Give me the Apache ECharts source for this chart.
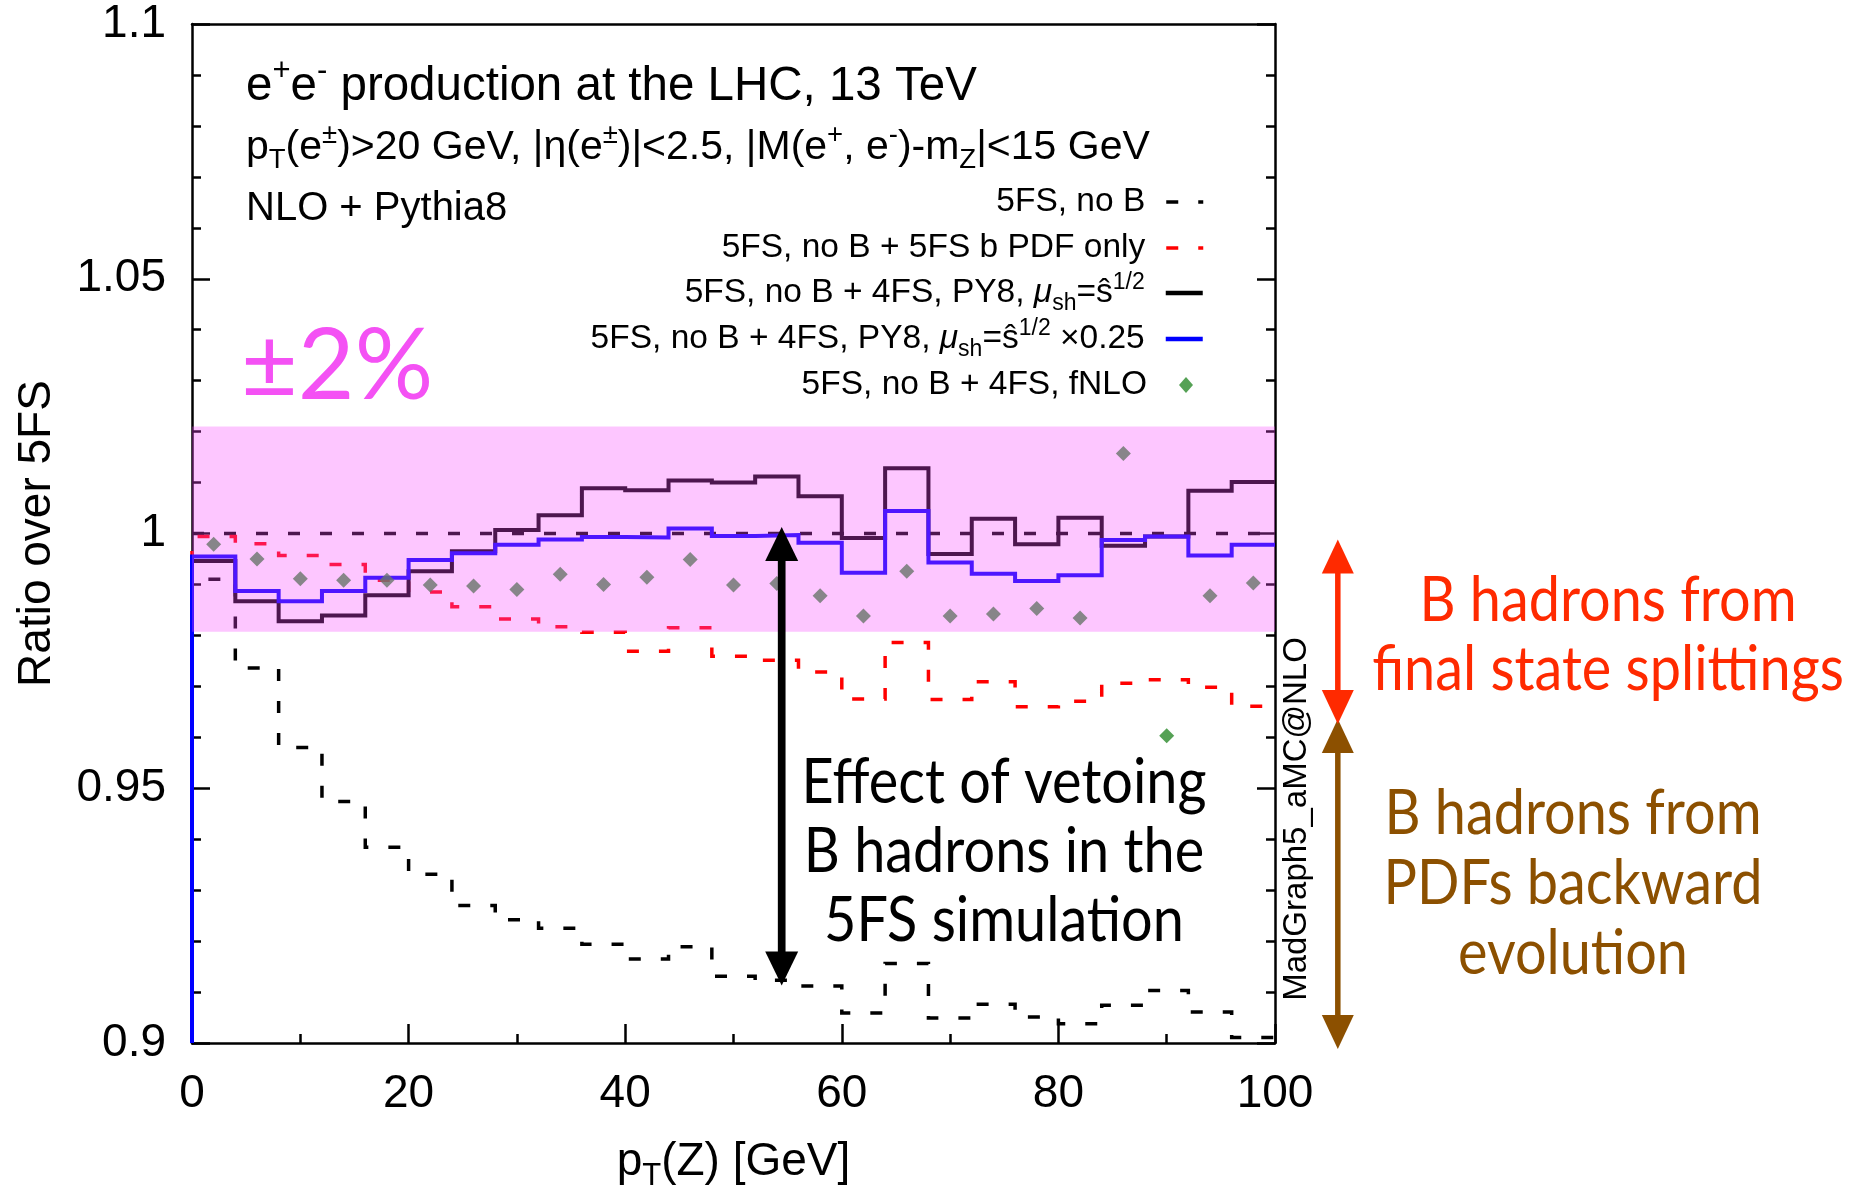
<!DOCTYPE html>
<html>
<head>
<meta charset="utf-8">
<title>Ratio over 5FS</title>
<script src="https://cdn.jsdelivr.net/npm/echarts@6/dist/echarts.min.js"></script>
<style>
html, body { margin: 0; padding: 0; background: #fff; }
#chart { width: 1863px; height: 1188px; }
</style>
</head>
<body>
<div id="chart"></div>
<script>
// p_T(Z) binning (GeV) and axis ticks
const BIN_EDGES = [0, 4, 8, 12, 16, 20, 24, 28, 32, 36, 40, 44, 48, 52, 56, 60, 64, 68, 72, 76, 80, 84, 88, 92, 96, 100];
const BIN_CENTERS = [2, 6, 10, 14, 18, 22, 26, 30, 34, 38, 42, 46, 50, 54, 58, 62, 66, 70, 74, 78, 82, 86, 90, 94, 98];
const X_TICKS = [0, 20, 40, 60, 80, 100];
const Y_TICKS = [0.9, 0.95, 1, 1.05, 1.1];

// ratios over the inclusive 5FS prediction, one value per 4 GeV bin
const NO_B = [0.9910, 0.9736, 0.9580, 0.9474, 0.9384, 0.9331, 0.9270, 0.9242, 0.9225, 0.9194, 0.9165, 0.9189, 0.9131,
  0.9123, 0.9112, 0.9059, 0.9156, 0.9049, 0.9076, 0.9051, 0.9038, 0.9074, 0.9103, 0.9061, 0.9011];
const NO_B_BPDF = [0.9994, 0.9980, 0.9957, 0.9939, 0.9908, 0.9885, 0.9856, 0.9832, 0.9817, 0.9806, 0.9769, 0.9815, 0.9759,
  0.9751, 0.9728, 0.9675, 0.9786, 0.9674, 0.9709, 0.9660, 0.9671, 0.9706, 0.9713, 0.9698, 0.9661];
const PY8_4FS = [0.9946, 0.9867, 0.9828, 0.9839, 0.9879, 0.9926, 0.9965, 1.0007, 1.0036, 1.0089, 1.0085, 1.0104, 1.0100,
  1.0112, 1.0073, 0.9991, 1.0128, 0.9960, 1.0029, 0.9979, 1.0031, 0.9976, 0.9994, 1.0084, 1.0101];
const PY8_4FS_SCALED = [0.9955, 0.9887, 0.9867, 0.9887, 0.9913, 0.9948, 0.9961, 0.9978, 0.9988, 0.9993, 0.9992, 1.0010, 0.9995,
  0.9997, 0.9982, 0.9923, 1.0044, 0.9943, 0.9921, 0.9907, 0.9918, 0.9987, 0.9994, 0.9957, 0.9978];
const FNLO_4FS = [0.9979, 0.9950, 0.9911, 0.9908, 0.9908, 0.9899, 0.9897, 0.9890, 0.9920, 0.9900, 0.9914, 0.9949, 0.9899,
  0.9902, 0.9878, 0.9838, 0.9926, 0.9838, 0.9842, 0.9853, 0.9834, 1.0157, 0.9603, 0.9878, 0.9903];

// reference ratio and the +-2% band
const REF_RATIO = 1;
const BAND = [0.9807, 1.021];

// annotation arrows (x in GeV, y in ratio units)
const VETO_ARROW = { x: 54.45, from: 1.0013, to: 0.9113 };
const FSR_ARROW = { x: 105.8, from: 0.9988, to: 0.9626 };
const PDF_ARROW = { x: 105.8, from: 0.9636, to: 0.8988 };

const FONT = 'Liberation Sans';
const BAND_COLOR = 'rgba(250,70,255,0.31)';
const GREEN = '#2a8a2a';
const DASH = [12, 20];

const S_NOB = '5FS, no B';
const S_BPDF = '5FS, no B + 5FS b PDF only';
const S_PY8 = '5FS, no B + 4FS, PY8';
const S_PY8Q = '5FS, no B + 4FS, PY8 x0.25';
const S_FNLO = '5FS, no B + 4FS, fNLO';

const LEGEND_LABELS = {};
LEGEND_LABELS[S_NOB] = '{n|5FS, no B}';
LEGEND_LABELS[S_BPDF] = '{n|5FS, no B + 5FS b PDF only}';
LEGEND_LABELS[S_PY8] = '{n|5FS, no B + 4FS, PY8, }{it|μ}{sub|sh}{n|=ŝ}{sup|1/2}';
LEGEND_LABELS[S_PY8Q] = '{n|5FS, no B + 4FS, PY8, }{it|μ}{sub|sh}{n|=ŝ}{sup|1/2}{n| ×0.25}';
LEGEND_LABELS[S_FNLO] = '{n|5FS, no B + 4FS, fNLO}';

// histogram outline: rises from the axis floor, then one step per bin
function histeps(values) {
  const pts = [[BIN_EDGES[0], Y_TICKS[0]]];
  values.forEach((v, i) => pts.push([BIN_EDGES[i], v]));
  pts.push([BIN_EDGES[BIN_EDGES.length - 1], values[values.length - 1]]);
  return pts;
}

const chart = echarts.init(document.getElementById('chart'), null, { renderer: 'canvas' });

const axisLineStyle = { color: '#000', width: 2.5 };

function legendRich(gap) {
  return {
    n: { fontFamily: FONT, fontSize: 33.5, color: '#000', lineHeight: 44 },
    it: { fontFamily: FONT, fontSize: 33.5, fontStyle: 'italic', color: '#000', lineHeight: 44 },
    sub: { fontFamily: FONT, fontSize: 23, color: '#000', lineHeight: 28, verticalAlign: 'bottom' },
    sup: { fontFamily: FONT, fontSize: 23, color: '#000', lineHeight: 22, verticalAlign: 'top' },
    gap: { width: gap, lineHeight: 44 }
  };
}

function legendRow(name, centerY, right, iw, ih, gap, lineIcon) {
  const row = {
    data: [name],
    orient: 'horizontal',
    right: right,
    top: centerY - 22,
    align: 'right',
    padding: 0,
    itemWidth: iw,
    itemHeight: ih,
    selectedMode: false,
    formatter: (n) => LEGEND_LABELS[n] + '{gap| }',
    textStyle: { fontFamily: FONT, fontSize: 33.5, color: '#000', lineHeight: 44, rich: legendRich(gap) }
  };
  if (lineIcon) {
    // only the line sample, no marker in its middle
    row.itemStyle = { opacity: 0 };
    row.lineStyle = lineIcon;
  }
  return row;
}

const option = {
  animation: false,
  backgroundColor: '#fff',
  grid: { left: 192, right: 588, top: 24, bottom: 145, containLabel: false, outerBoundsMode: 'none' },
  xAxis: [{
    type: 'value',
    position: 'bottom',
    min: X_TICKS[0], max: X_TICKS[X_TICKS.length - 1], interval: X_TICKS[1] - X_TICKS[0],
    axisLine: { show: true, onZero: false, lineStyle: axisLineStyle },
    axisTick: { show: true, inside: true, length: 19, lineStyle: axisLineStyle },
    minorTick: { show: true, splitNumber: 2, length: 9, lineStyle: axisLineStyle },
    splitLine: { show: false }, minorSplitLine: { show: false },
    axisLabel: { show: true, margin: 28, color: '#000', fontFamily: FONT, fontSize: 46 },
    name: '{n|p}{sub|T}{n|(Z) [GeV]}',
    nameLocation: 'middle',
    nameGap: 89,
    nameTextStyle: {
      fontFamily: FONT, fontSize: 46, color: '#000', lineHeight: 60,
      rich: {
        n: { fontFamily: FONT, fontSize: 46, color: '#000', lineHeight: 60 },
        sub: { fontFamily: FONT, fontSize: 31, color: '#000', lineHeight: 40, verticalAlign: 'bottom' }
      }
    }
  }, {
    type: 'value',
    position: 'top',
    min: X_TICKS[0], max: X_TICKS[X_TICKS.length - 1], interval: X_TICKS[1] - X_TICKS[0],
    axisLine: { show: true, onZero: false, lineStyle: axisLineStyle },
    axisTick: { show: false }, minorTick: { show: false },
    splitLine: { show: false }, axisLabel: { show: false }
  }],
  yAxis: [{
    type: 'value',
    position: 'left',
    min: Y_TICKS[0], max: Y_TICKS[Y_TICKS.length - 1], interval: Y_TICKS[1] - Y_TICKS[0],
    axisLine: { show: true, onZero: false, lineStyle: axisLineStyle },
    axisTick: { show: true, inside: true, length: 18, lineStyle: axisLineStyle },
    minorTick: { show: true, splitNumber: 5, length: 9, lineStyle: axisLineStyle },
    splitLine: { show: false }, minorSplitLine: { show: false },
    axisLabel: { show: true, margin: 26, color: '#000', fontFamily: FONT, fontSize: 46,
      formatter: (v) => String(Y_TICKS.find((t) => Math.abs(t - v) < 1e-9) ?? v) },
    name: 'Ratio over 5FS',
    nameLocation: 'middle',
    nameGap: 116,
    nameTextStyle: { fontFamily: FONT, fontSize: 46, color: '#000', lineHeight: 56 }
  }, {
    type: 'value',
    position: 'right',
    min: Y_TICKS[0], max: Y_TICKS[Y_TICKS.length - 1], interval: Y_TICKS[1] - Y_TICKS[0],
    axisLine: { show: true, onZero: false, lineStyle: axisLineStyle },
    axisTick: { show: true, inside: true, length: 18, lineStyle: axisLineStyle },
    minorTick: { show: true, splitNumber: 5, length: 9, lineStyle: axisLineStyle },
    splitLine: { show: false }, minorSplitLine: { show: false },
    axisLabel: { show: false }
  }],
  legend: [
    legendRow(S_NOB, 202, 658, 37, 14, 16, { color: '#000', width: 3.5, type: DASH }),
    legendRow(S_BPDF, 248, 658, 37, 14, 16, { color: '#ff0000', width: 3.5, type: DASH }),
    legendRow(S_PY8, 293, 658, 37, 14, 16, { color: '#000', width: 4.5, type: 'solid' }),
    legendRow(S_PY8Q, 339, 658, 37, 14, 16, { color: '#0000ff', width: 4.5, type: 'solid' }),
    legendRow(S_FNLO, 385, 670, 14, 16, 27, null)
  ],
  series: [
    {
      // 5FS over itself
      name: 'ref', type: 'line', data: [[X_TICKS[0], REF_RATIO], [X_TICKS[X_TICKS.length - 1], REF_RATIO]],
      symbol: 'none', showSymbol: false, z: 1, silent: true,
      lineStyle: { color: '#000', width: 3.6, type: DASH, cap: 'butt' }
    },
    {
      name: S_NOB, type: 'line', step: 'end', data: histeps(NO_B),
      symbol: 'none', showSymbol: false, z: 2, silent: true,
      itemStyle: { color: '#000' },
      lineStyle: { color: '#000', width: 3.5, type: DASH, cap: 'butt', join: 'miter' }
    },
    {
      name: S_BPDF, type: 'line', step: 'end', data: histeps(NO_B_BPDF),
      symbol: 'none', showSymbol: false, z: 2, silent: true,
      itemStyle: { color: '#ff0000' },
      lineStyle: { color: '#ff0000', width: 3.5, type: DASH, cap: 'butt', join: 'miter' }
    },
    {
      name: S_PY8, type: 'line', step: 'end', data: histeps(PY8_4FS),
      symbol: 'none', showSymbol: false, z: 2, silent: true,
      itemStyle: { color: '#000' },
      lineStyle: { color: '#000', width: 4, type: 'solid', join: 'miter' }
    },
    {
      name: S_PY8Q, type: 'line', step: 'end', data: histeps(PY8_4FS_SCALED),
      symbol: 'none', showSymbol: false, z: 2, silent: true,
      itemStyle: { color: '#0000ff' },
      lineStyle: { color: '#0000ff', width: 4, type: 'solid', join: 'miter' }
    },
    {
      name: S_FNLO, type: 'scatter', symbol: 'diamond', symbolSize: [15, 15], z: 3, silent: true,
      itemStyle: { color: GREEN },
      data: BIN_CENTERS.map((x, i) => [x, FNLO_4FS[i]])
    },
    {
      // translucent +-2% band laid over the curves
      name: 'band', type: 'custom', z: 10, silent: true, clip: false,
      data: [[BAND[0], BAND[1]]],
      renderItem: (params, api) => {
        const lo = api.coord([X_TICKS[0], api.value(0)]);
        const hi = api.coord([X_TICKS[X_TICKS.length - 1], api.value(1)]);
        return {
          type: 'rect',
          shape: { x: lo[0], y: hi[1], width: hi[0] - lo[0], height: lo[1] - hi[1] },
          style: { fill: BAND_COLOR }
        };
      }
    }
  ]
};

chart.setOption(option);

function px(x, y) { return chart.convertToPixel({ gridIndex: 0 }, [x, y]); }

function doubleArrow(a, color, shaft, headW, headL, z) {
  const p1 = px(a.x, a.from);
  const p2 = px(a.x, a.to);
  const x = p1[0];
  const dir = p2[1] > p1[1] ? 1 : -1;
  return [
    { type: 'line', z: z, silent: true,
      shape: { x1: x, y1: p1[1] + dir * headL * 0.8, x2: x, y2: p2[1] - dir * headL * 0.8 },
      style: { stroke: color, lineWidth: shaft } },
    { type: 'polygon', z: z, silent: true,
      shape: { points: [[x, p1[1]], [x - headW / 2, p1[1] + dir * headL], [x + headW / 2, p1[1] + dir * headL]] },
      style: { fill: color } },
    { type: 'polygon', z: z, silent: true,
      shape: { points: [[x, p2[1]], [x - headW / 2, p2[1] - dir * headL], [x + headW / 2, p2[1] - dir * headL]] },
      style: { fill: color } }
  ];
}

function textEl(x, y, text, style, extra) {
  return Object.assign({
    type: 'text', x: x, y: y, z: 50, silent: true,
    style: Object.assign({ text: text }, style)
  }, extra || {});
}

const titleRich = {
  n: { fontFamily: FONT, fontSize: 47.5, fill: '#000', lineHeight: 62 },
  sup: { fontFamily: FONT, fontSize: 31, fill: '#000', lineHeight: 29, verticalAlign: 'top' }
};
const cutsRich = {
  n: { fontFamily: FONT, fontSize: 41, fill: '#000', lineHeight: 53 },
  sup: { fontFamily: FONT, fontSize: 27.5, fill: '#000', lineHeight: 24, verticalAlign: 'top' },
  sub: { fontFamily: FONT, fontSize: 27.5, fill: '#000', lineHeight: 34, verticalAlign: 'bottom' }
};
const leftMid = { align: 'left', textAlign: 'left', verticalAlign: 'middle', textVerticalAlign: 'middle' };
const centerMid = { align: 'center', textAlign: 'center', verticalAlign: 'middle', textVerticalAlign: 'middle' };
const narrow = { scaleX: 0.9, scaleY: 1 };

const elements = []
  .concat(doubleArrow(PDF_ARROW, '#8c5000', 5.5, 32, 34, 60))
  .concat(doubleArrow(FSR_ARROW, '#ff2a00', 5.5, 32, 34, 61))
  .concat(doubleArrow(VETO_ARROW, '#000', 7.7, 33, 34, 62))
  .concat([
    textEl(246, 87, '{n|e}{sup|+}{n|e}{sup|-}{n| production at the LHC, 13 TeV}',
      Object.assign({ rich: titleRich, fill: '#000', font: '47.5px "Liberation Sans"' }, leftMid)),
    textEl(246, 148, '{n|p}{sub|T}{n|(e}{sup|±}{n|)>20 GeV, |η(e}{sup|±}{n|)|<2.5, |M(e}{sup|+}{n|, e}{sup|-}{n|)-m}{sub|Z}{n||<15 GeV}',
      Object.assign({ rich: cutsRich, fill: '#000', font: '41px "Liberation Sans"' }, leftMid)),
    textEl(246, 209, 'NLO + Pythia8',
      Object.assign({ fill: '#000', font: '40px "Liberation Sans"' }, leftMid)),
    textEl(241, 367, '±2%',
      Object.assign({ fill: '#f451f4', font: '98px Lato' }, leftMid)),
    textEl(1004, 852, 'Effect of vetoing\nB hadrons in the\n5FS simulation',
      Object.assign({ fill: '#000', font: '62px Lato', lineHeight: 69 }, centerMid), narrow),
    textEl(1297, 819, 'MadGraph5_aMC@NLO',
      Object.assign({ fill: '#000', font: '33px "Liberation Sans"' }, centerMid), { rotation: Math.PI / 2 }),
    textEl(1608, 635, 'B hadrons from\nfinal state splittings',
      Object.assign({ fill: '#ff2a00', font: '62px Lato', lineHeight: 69 }, centerMid), narrow),
    textEl(1573, 884, 'B hadrons from\nPDFs backward\nevolution',
      Object.assign({ fill: '#8c5000', font: '62px Lato', lineHeight: 70 }, centerMid), narrow)
  ]);

chart.setOption({ graphic: { elements: elements } });
</script>
</body>
</html>
